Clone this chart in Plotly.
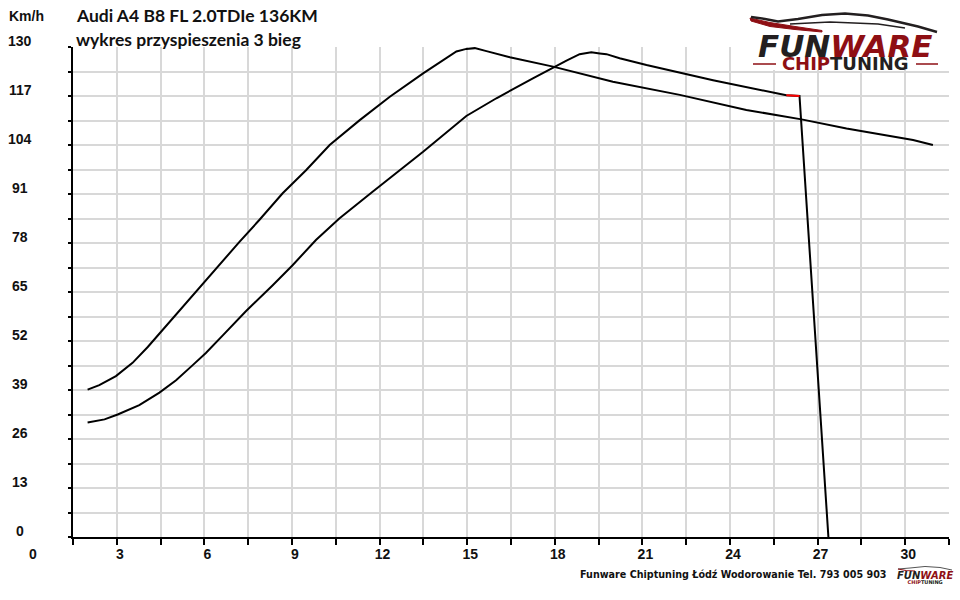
import plotly.graph_objects as go

# ---------------- data ----------------
time_a = [2.00, 2.40, 2.97, 3.54, 4.06, 4.51, 5.14, 5.71, 6.05, 6.51, 7.20, 7.88, 8.68, 9.48,
          10.29, 11.32, 12.35, 13.49, 14.63, 14.97, 15.26, 15.66, 16.46, 17.94, 18.85, 19.99,
          22.28, 24.56, 26.45, 27.99, 30.27, 30.95]
speed_a = [39.1, 40.3, 42.7, 46.2, 50.4, 54.4, 60.2, 65.0, 68.1, 72.1, 78.3, 84.1, 91.2, 97.3,
           104.0, 110.6, 116.8, 123.0, 128.8, 129.5, 129.7, 128.9, 127.3, 124.8, 123.0, 120.8,
           117.3, 113.3, 110.8, 108.4, 105.3, 104.0]

time_b = [2.00, 2.58, 3.03, 3.77, 4.46, 5.03, 5.60, 6.05, 6.63, 7.42, 8.34, 9.02, 9.82, 10.62,
          11.76, 13.49, 14.97, 16.00, 17.25, 17.94, 18.40, 18.85, 19.25, 19.54, 19.77, 20.22,
          21.14, 23.42, 25.70, 25.93, 26.38, 27.37]
speed_b = [30.4, 31.2, 32.5, 35.0, 38.3, 41.6, 45.6, 48.8, 53.5, 59.9, 66.8, 72.1, 78.8, 84.5,
           91.6, 102.2, 111.7, 116.4, 121.7, 124.6, 126.4, 128.1, 128.6, 128.3, 128.1, 127.0,
           125.2, 121.2, 117.7, 117.2, 117.0, 0.0]

time_red = [25.93, 26.38]
speed_red = [117.2, 117.0]

x_tick_vals = [1.5, 3, 4.5, 6, 7.5, 9, 10.5, 12, 13.5, 15, 16.5, 18, 19.5, 21, 22.5, 24,
               25.5, 27, 28.5, 30, 31.5]
x_tick_text = ["", "3", "", "6", "", "9", "", "12", "", "15", "", "18", "", "21", "",
               "24", "", "27", "", "30", ""]
y_grid_vals = [0, 6.5, 13, 19.5, 26, 32.5, 39, 45.5, 52, 58.5, 65, 71.5, 78, 84.5, 91,
               97.5, 104, 110.5, 117, 123.5, 130]
y_label_vals = [0, 13, 26, 39, 52, 65, 78, 91, 104, 117, 130]
y_label_text = ["0", "13", "26", "39", "52", "65", "78", "91", "104", "117", "130"]

title_1 = "Audi A4 B8 FL 2.0TDIe 136KM"
title_2 = "wykres przyspieszenia 3 bieg"
y_unit = "Km/h"
footer = "Funware Chiptuning Łódź Wodorowanie Tel. 793 005 903"

# ---------------- layout helpers ----------------
W, H = 960, 600
X0, X1, Y0, Y1 = 73, 949, 47, 537          # plot area in window pixels
L, R, T, B = X0, W - X1, Y0, H - Y1
PW, PH = X1 - X0, Y1 - Y0


def px(x):
    return (x - X0) / PW


def py(y):
    return (Y1 - y) / PH


LABEL_FONT = dict(family="Liberation Sans", size=14, color="#111111", weight="bold")
RED = "#8e0f14"
DARK = "#231f20"

fig = go.Figure()
fig.add_trace(go.Scatter(x=time_a, y=speed_a, mode="lines",
                         line=dict(color="#000000", width=2), showlegend=False))
fig.add_trace(go.Scatter(x=time_b, y=speed_b, mode="lines",
                         line=dict(color="#000000", width=2), showlegend=False))
fig.add_trace(go.Scatter(x=time_red, y=speed_red, mode="lines",
                         line=dict(color="#ff0000", width=2), showlegend=False))

fig.update_layout(
    width=W, height=H,
    margin=dict(l=L, r=R, t=T, b=B, pad=0),
    paper_bgcolor="white", plot_bgcolor="white",
    xaxis=dict(range=[1.5, 31.5], tickmode="array", tickvals=x_tick_vals,
               ticktext=x_tick_text, ticks="outside", ticklen=6, tickwidth=1.5,
               tickcolor="#000000", showgrid=True, gridcolor="#d8d8d8", gridwidth=1.5,
               showline=True, linecolor="#000000", linewidth=2, zeroline=False,
               tickfont=LABEL_FONT, ticklabelshift=3, ticklabelstandoff=-3),
    yaxis=dict(range=[0, 130], tickmode="array", tickvals=y_grid_vals,
               showticklabels=False, ticks="outside", ticklen=3, tickwidth=1.5,
               tickcolor="#000000", showgrid=True, gridcolor="#d8d8d8", gridwidth=1.5,
               showline=True, linecolor="#000000", linewidth=2, zeroline=False),
)

ann = []
for v, t in zip(y_label_vals, y_label_text):
    ann.append(dict(x=px(20), y=v, xref="paper", yref="y", text=t, showarrow=False,
                    xanchor="center", yanchor="middle", yshift=6.5, font=LABEL_FONT))
ann.append(dict(x=px(33), y=py(554), xref="paper", yref="paper", text="0", showarrow=False,
                xanchor="center", yanchor="middle", font=LABEL_FONT))
ann.append(dict(x=px(26), y=py(16), xref="paper", yref="paper", text=y_unit, showarrow=False,
                xanchor="center", yanchor="middle",
                font=dict(family="Liberation Sans", size=14, color="#111111", weight="bold")))
ann.append(dict(x=px(74), y=py(15), xref="paper", yref="paper", text=title_1, showarrow=False,
                xanchor="left", yanchor="middle",
                font=dict(family="Lato", size=17.5, color="#111111", weight="bold")))
ann.append(dict(x=px(74), y=py(39), xref="paper", yref="paper", text=title_2, showarrow=False,
                xanchor="left", yanchor="middle",
                font=dict(family="Lato", size=17.5, color="#111111", weight="bold")))
ann.append(dict(x=px(733), y=py(574), xref="paper", yref="paper", text=footer, showarrow=False,
                xanchor="center", yanchor="middle",
                font=dict(family="DejaVu Sans", size=9.6, color="#111111", weight="bold")))

# logo (big): one two-line text, line spacing set by the small base size
logo_big = (f"<i><b><span style='font-size:31px'><span style='color:{DARK}'>FUN</span>"
            f"<span style='color:{RED}'>WARE</span></span></b></i><br>"
            f"<b><span style='font-size:18px'><span style='color:{RED}'>CHIP</span>"
            f"<span style='color:{DARK}'>TUNING</span></span></b>")
ann.append(dict(x=px(845), y=py(50.7), xref="paper", yref="paper", text=logo_big,
                showarrow=False, xanchor="center", yanchor="middle",
                font=dict(family="DejaVu Sans", size=10)))
# logo (small)
logo_small = (f"<i><b><span style='font-size:10px'><span style='color:{DARK}'>FUN</span>"
              f"<span style='color:{RED}'>WARE</span></span></b></i><br>"
              f"<b><span style='font-size:5px'><span style='color:{RED}'>CHIP</span>"
              f"<span style='color:{DARK}'>TUNING</span></span></b>")
ann.append(dict(x=px(925), y=py(577), xref="paper", yref="paper", text=logo_small,
                showarrow=False, xanchor="center", yanchor="middle",
                font=dict(family="DejaVu Sans", size=4)))
fig.update_layout(annotations=ann)


def path(points, close=False):
    s = "M " + " L ".join(f"{px(a):.5f},{py(b):.5f}" for a, b in points)
    return s + (" Z" if close else "")


shapes = [
    dict(type="rect", xref="paper", yref="paper", x0=px(741), x1=px(946), y0=py(70), y1=py(0),
         fillcolor="white", line=dict(width=0), layer="above"),
    # car silhouette
    dict(type="path", xref="paper", yref="paper",
         path=path([(750, 18), (770, 22.5), (795, 26.5), (822, 30.5), (822, 32), (795, 29.5),
                    (770, 26.5), (751, 21)], close=True),
         fillcolor=RED, line=dict(color=RED, width=1), layer="above"),
    dict(type="path", xref="paper", yref="paper",
         path=path([(751, 17), (765, 19), (778, 21.5), (798, 19), (822, 15), (845, 13.5),
                    (868, 15.5), (888, 19.5), (918, 26.5), (937, 32)]),
         line=dict(color=DARK, width=2.5), layer="above"),
    dict(type="path", xref="paper", yref="paper",
         path=path([(790, 24), (830, 22), (878, 24), (905, 28)]),
         line=dict(color=DARK, width=1.5), layer="above"),
    dict(type="line", xref="paper", yref="paper", x0=px(753), x1=px(776), y0=py(64), y1=py(64),
         line=dict(color=RED, width=1.5), layer="above"),
    dict(type="line", xref="paper", yref="paper", x0=px(916), x1=px(938), y0=py(64), y1=py(64),
         line=dict(color=RED, width=1.5), layer="above"),
    # small car line
    dict(type="path", xref="paper", yref="paper",
         path=path([(898, 569), (910, 568), (925, 566.5), (940, 567.5), (952, 570)]),
         line=dict(color="#555555", width=1), layer="above"),
    dict(type="path", xref="paper", yref="paper",
         path=path([(898, 569), (906, 570.5), (915, 571)]),
         line=dict(color=RED, width=1.2), layer="above"),
]
fig.update_layout(shapes=shapes)

# the page body has a default 8px margin; remove it so the figure fills the window
fig.write_html("out.html", config={"displayModeBar": False},
               post_script="document.body.style.margin='0';")
